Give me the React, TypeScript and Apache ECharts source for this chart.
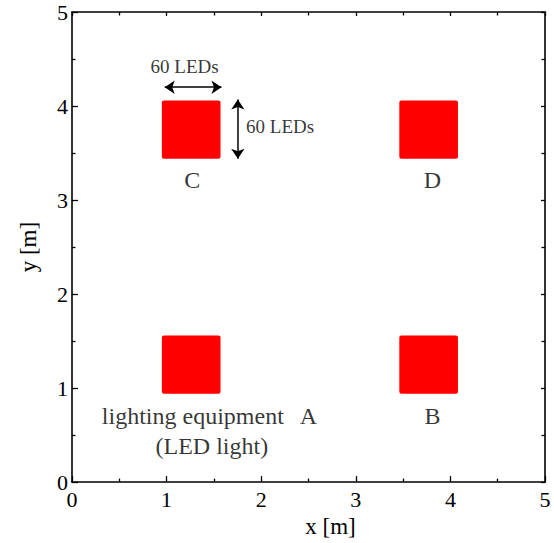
import React, { useEffect, useRef } from "react";
import * as echarts from "echarts";

// Lighting equipment squares: [xMin, yMin, xMax, yMax] in metres
const panelNames = ["A", "B", "C", "D"];
const panelRects: number[][] = [
  [0.95, 0.94, 1.57, 1.56],
  [3.46, 0.94, 4.08, 1.56],
  [0.95, 3.44, 1.57, 4.06],
  [3.46, 3.44, 4.08, 4.06],
];

// Labels: [x, y, text]
const panelLabels: (number | string)[][] = [
  [2.5, 0.7, "A"],
  [3.81, 0.7, "B"],
  [1.27, 3.215, "C"],
  [3.81, 3.215, "D"],
  [1.277, 0.7, "lighting equipment"],
  [1.478, 0.385, "(LED light)"],
];
const dimLabelTop: (number | string)[] = [1.19, 4.42, "60 LEDs"];
const dimLabelRight: (number | string)[] = [1.84, 3.78, "60 LEDs"];

// Dimension arrows: [[x0, y0], [x1, y1]]
const dimArrows: number[][][] = [
  [[0.98, 4.2], [1.58, 4.2]],
  [[1.753, 4.07], [1.753, 3.44]],
];

const xTicks = [0, 1, 2, 3, 4, 5];
const yTicks = [0, 1, 2, 3, 4, 5];

const FONT = "'Liberation Serif', 'Times New Roman', serif";

export default function App() {
  const ref = useRef<HTMLDivElement>(null);
  useEffect(() => {
    if (!ref.current) return;
    document.body.style.margin = "0";
    const chart = echarts.init(ref.current, undefined, { renderer: "svg" });
    const tickStyle = { color: "#000", width: 1.3 };
    const axisCommon = {
      type: "value" as const,
      min: xTicks[0],
      max: xTicks[xTicks.length - 1],
      interval: 1,
      splitLine: { show: false },
      axisLine: { show: true, onZero: false, lineStyle: { color: "#000", width: 1.6 } },
      minorSplitLine: { show: false },
    };
    chart.setOption({
      animation: false,
      backgroundColor: "#fff",
      textStyle: { fontFamily: FONT },
      grid: { left: 72, right: 9, top: 12, bottom: 57, containLabel: false },
      xAxis: [
        {
          ...axisCommon,
          position: "bottom",
          name: "x [m]",
          nameLocation: "middle",
          nameGap: 32,
          nameTextStyle: { fontFamily: FONT, fontSize: 23, color: "#000", padding: [0, 0, 0, 44] },
          axisTick: { inside: true, length: 6, lineStyle: tickStyle },
          minorTick: { show: true, splitNumber: 2, length: 3.5, lineStyle: tickStyle },
          axisLabel: { fontFamily: FONT, fontSize: 22, color: "#000", margin: 6 },
        },
        {
          ...axisCommon,
          position: "top",
          axisTick: { inside: true, length: 4, lineStyle: tickStyle },
          minorTick: { show: true, splitNumber: 2, length: 3.5, lineStyle: tickStyle },
          axisLabel: { show: false },
        },
      ],
      yAxis: [
        {
          ...axisCommon,
          min: yTicks[0],
          max: yTicks[yTicks.length - 1],
          position: "left",
          name: "y [m]",
          nameLocation: "middle",
          nameGap: 32,
          nameTextStyle: { fontFamily: FONT, fontSize: 23, color: "#000" },
          axisTick: { inside: true, length: 6, lineStyle: tickStyle },
          minorTick: { show: true, splitNumber: 2, length: 3.5, lineStyle: tickStyle },
          axisLabel: { fontFamily: FONT, fontSize: 22, color: "#000", margin: 4 },
        },
        {
          ...axisCommon,
          min: yTicks[0],
          max: yTicks[yTicks.length - 1],
          position: "right",
          axisTick: { inside: true, length: 4, lineStyle: tickStyle },
          minorTick: { show: true, splitNumber: 2, length: 3.5, lineStyle: tickStyle },
          axisLabel: { show: false },
        },
      ],
      series: [
        {
          type: "custom",
          name: "panels",
          xAxisIndex: 0,
          yAxisIndex: 0,
          data: panelRects.map((r, i) => ({ name: panelNames[i], value: r })),
          renderItem: (params: any, api: any) => {
            const p0 = api.coord([api.value(0), api.value(3)]);
            const p1 = api.coord([api.value(2), api.value(1)]);
            return {
              type: "rect",
              shape: { x: p0[0], y: p0[1], width: p1[0] - p0[0], height: p1[1] - p0[1], r: 2 },
              style: { fill: "#ff0000" },
            };
          },
          silent: true,
        },
        {
          type: "scatter",
          name: "labels",
          xAxisIndex: 0,
          yAxisIndex: 0,
          symbolSize: 0,
          silent: true,
          data: panelLabels.map((d) => ({ value: [d[0], d[1]], name: d[2] })),
          label: {
            show: true,
            position: "inside",
            formatter: (p: any) => p.name,
            fontFamily: FONT,
            fontSize: 24,
            color: "#000",
          },
        },
        {
          type: "scatter",
          name: "dimTop",
          xAxisIndex: 0,
          yAxisIndex: 0,
          symbolSize: 0,
          silent: true,
          data: [{ value: [dimLabelTop[0], dimLabelTop[1]], name: dimLabelTop[2] }],
          label: {
            show: true,
            position: "inside",
            formatter: (p: any) => p.name,
            fontFamily: FONT,
            fontSize: 19,
            color: "#000",
          },
        },
        {
          type: "scatter",
          name: "dimRight",
          xAxisIndex: 0,
          yAxisIndex: 0,
          symbolSize: 0,
          silent: true,
          data: [{ value: [dimLabelRight[0], dimLabelRight[1]], name: dimLabelRight[2] }],
          label: {
            show: true,
            position: "right",
            distance: 0,
            formatter: (p: any) => p.name,
            fontFamily: FONT,
            fontSize: 19,
            color: "#000",
          },
        },
        {
          type: "lines",
          name: "arrows",
          coordinateSystem: "cartesian2d",
          xAxisIndex: 0,
          yAxisIndex: 0,
          silent: true,
          symbol: ["arrow", "arrow"],
          symbolSize: 10,
          lineStyle: { color: "#000", width: 1.5, opacity: 1 },
          itemStyle: { color: "#000" },
          data: dimArrows.map((a) => ({ coords: a })),
        },
      ],
    });
    return () => chart.dispose();
  }, []);
  return <div ref={ref} style={{ width: 554, height: 543 }} />;
}
